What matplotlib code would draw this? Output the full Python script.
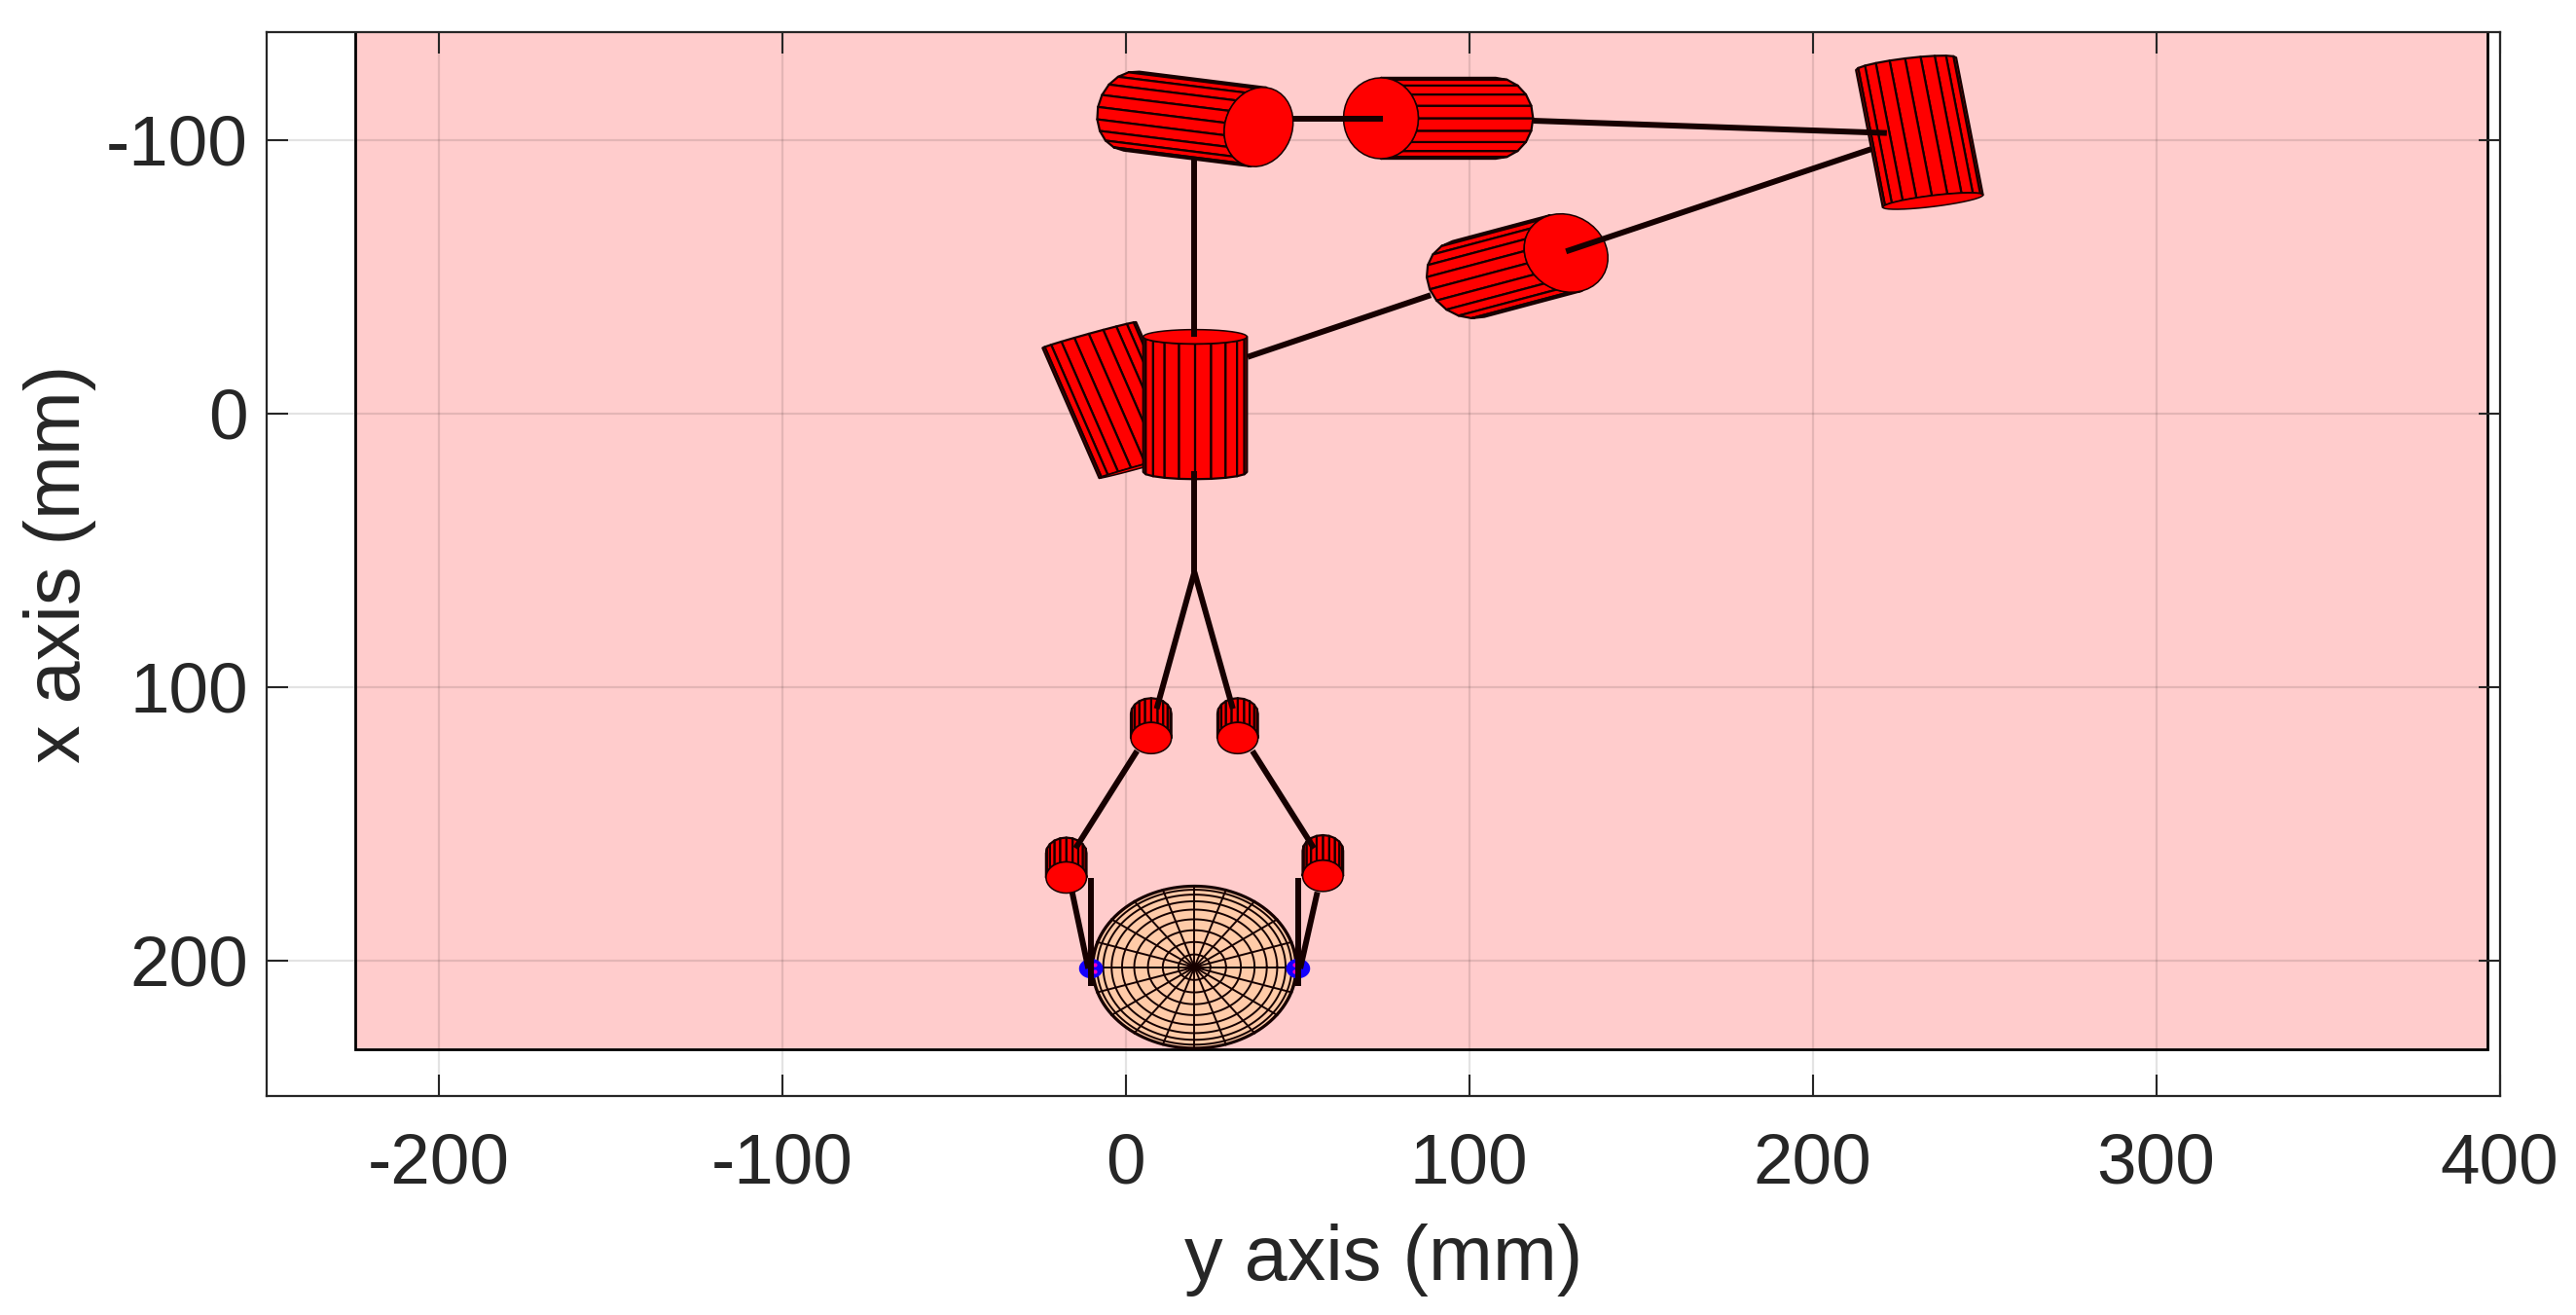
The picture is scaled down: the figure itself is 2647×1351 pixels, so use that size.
#!/usr/bin/env python3
import matplotlib
matplotlib.use("Agg")
import matplotlib.pyplot as plt
from matplotlib.collections import PolyCollection
from matplotlib.patches import Rectangle
import numpy as np

plt.rcParams["font.family"] = ["Liberation Sans", "DejaVu Sans"]

x_ticks = [-200, -100, 0, 100, 200, 300, 400]
x_tick_labels = ["-200", "-100", "0", "100", "200", "300", "400"]
y_ticks = [-100, 0, 100, 200]
y_tick_labels = ["-100", "0", "100", "200"]

# workspace box (mm)
box_x = [-224.2, 396.5]
box_y = [-140, 232.6]

# cylinders, first ones are drawn first (mm)
cyl_near_x = [5.9, 20.2, 38.7, 74.3, 235.0, 128.2, 7.4, 32.6, -17.3, 57.4]
cyl_near_y = [18.9, -28.1, -104.8, -108.0, -77.7, -58.7, 118.7, 118.7, 169.7, 169.1]
cyl_far_x = [-10.6, 20.2, 1.7, 107.7, 227.2, 99.8, 7.4, 32.6, -17.3, 57.4]
cyl_far_y = [-28.7, 21.4, -110.6, -108.0, -127.9, -49.2, 109.8, 109.8, 160.8, 159.9]
cyl_major = [14.4, 15.1, 14.6, 14.8, 14.75, 14.6, 5.9, 5.9, 5.9, 5.9]
cyl_minor = [0.5, 2.6, 9.9, 10.9, 2.0, 11.9, 5.7, 5.7, 5.7, 5.7]

# links between the joints (mm)
link_x = [
    [20, 20], [20, 20], [20, 9.0], [20, 31.2],
    [48.7, 75.0], [118.6, 221.6], [217.0, 128.2], [88.8, 35.5],
    [3.3, -14.6], [36.9, 54.8],
    [-15.6, -10.9], [55.8, 50.8], [-10.2, -10.2], [50.3, 50.3],
]
link_y = [
    [-93, -28], [21, 58], [58, 108], [58, 108],
    [-107.7, -107.7], [-107.1, -102.6], [-96.7, -59.3], [-43.3, -20.7],
    [123.4, 159], [123.4, 159],
    [175, 203], [175, 203], [169.7, 209.5], [169.7, 209.5],
]

# object held by the fingers (mm)
ball_x = 20.0
ball_y = 202.5
ball_r = 29.8

# finger tips
tip_x = [-10.1, 50.2]
tip_y = [203, 203]
tip_rx = 3.5
tip_ry = 3.6
mark_x = [-9, -9, 49, 49]
mark_y = [201.5, 204, 201.5, 204]

RED = "#ff0000"
DARK = "#160000"


def ring(cx, cy, u, v, t):
    return np.column_stack([cx + u[0] * np.cos(t) + v[0] * np.sin(t),
                            cy + u[1] * np.cos(t) + v[1] * np.sin(t)])


def draw_cylinder(ax, nx, ny, fx, fy, major, minor, zorder):
    axis = np.array([nx - fx, ny - fy], dtype=float)
    axis /= np.hypot(*axis)
    u = np.array([-axis[1], axis[0]]) * major
    v = axis * minor
    # only the side facing the viewer, 10 of the 20 facets
    t = np.linspace(np.pi, 2 * np.pi, 11)
    near = ring(nx, ny, u, v, t)
    far = ring(fx, fy, u, v, t)
    facets = [[far[i], far[i + 1], near[i + 1], near[i]] for i in range(10)]
    ax.add_collection(PolyCollection(facets, facecolors=RED, edgecolors=DARK,
                                     linewidths=1.6, zorder=zorder))
    cap = ring(nx, ny, u, v, np.linspace(0, 2 * np.pi, 41))
    ax.fill(cap[:, 0], cap[:, 1], facecolor=RED, edgecolor=DARK, linewidth=1.1,
            zorder=zorder + 0.1)


def draw_ball(ax, zorder):
    lon = np.linspace(0, 2 * np.pi, 121)
    outline = ball_r * np.cos(lon), ball_r * np.sin(lon)
    ax.fill(ball_x + outline[0], ball_y + outline[1], facecolor="#ffcba8",
            edgecolor=DARK, linewidth=1.6, zorder=zorder)
    for k in range(1, 10):
        r = ball_r * np.cos(k * np.pi / 20)
        ax.plot(ball_x + r * np.cos(lon), ball_y + r * np.sin(lon), color=DARK,
                linewidth=1.4, zorder=zorder + 0.1)
    for k in range(20):
        a = k * np.pi / 10 + np.pi / 2
        ax.plot([ball_x, ball_x + ball_r * np.cos(a)],
                [ball_y, ball_y + ball_r * np.sin(a)], color=DARK,
                linewidth=1.4, zorder=zorder + 0.1)


def main():
    fig = plt.figure(figsize=(26.47, 13.51), dpi=100)
    ax = fig.add_axes([274.4 / 2647, 1 - 1125.7 / 1351,
                       (2568.5 - 274.4) / 2647, (1125.7 - 33) / 1351])

    ax.add_patch(Rectangle((box_x[0], box_y[0]), box_x[1] - box_x[0], box_y[1] - box_y[0],
                           facecolor="#ffcccc", edgecolor="#000000", linewidth=2,
                           zorder=1))

    for i in range(len(cyl_near_x)):
        draw_cylinder(ax, cyl_near_x[i], cyl_near_y[i], cyl_far_x[i], cyl_far_y[i],
                      cyl_major[i], cyl_minor[i], 3 + i * 0.2)

    draw_ball(ax, 6)

    t = np.linspace(0, 2 * np.pi, 41)
    for x, y in zip(tip_x, tip_y):
        ax.fill(x + tip_rx * np.cos(t), y + tip_ry * np.sin(t), color="#1400ff",
                linewidth=0, zorder=7)
    ax.plot(mark_x, mark_y, linestyle="none", marker="o", markersize=2,
            color="#ff00c0", zorder=7.1)

    for x, y in zip(link_x, link_y):
        ax.plot(x, y, color=DARK, linewidth=4.3, solid_capstyle="butt", zorder=8)

    ax.set_xlim(-250, 400)
    ax.set_ylim(249.5, -139.5)
    ax.set_xticks(x_ticks)
    ax.set_xticklabels(x_tick_labels)
    ax.set_yticks(y_ticks)
    ax.set_yticklabels(y_tick_labels)
    ax.tick_params(axis="both", direction="in", length=16, width=1.5, color="#262626",
                   labelcolor="#262626", labelsize=52.5, top=True, right=True)
    ax.tick_params(axis="x", pad=27)
    ax.tick_params(axis="y", pad=14)
    ax.set_axisbelow(False)
    ax.grid(True, color="#000000", alpha=0.11, linewidth=1.6)
    for spine in ax.spines.values():
        spine.set_color("#262626")
        spine.set_linewidth(1.6)

    ax.set_xlabel("y axis (mm)", fontsize=57, color="#262626", labelpad=19)
    ax.set_ylabel("x axis (mm)", fontsize=57, color="#262626", labelpad=7)

    fig.savefig("out.png", dpi=100)
    plt.close(fig)


if __name__ == "__main__":
    main()
